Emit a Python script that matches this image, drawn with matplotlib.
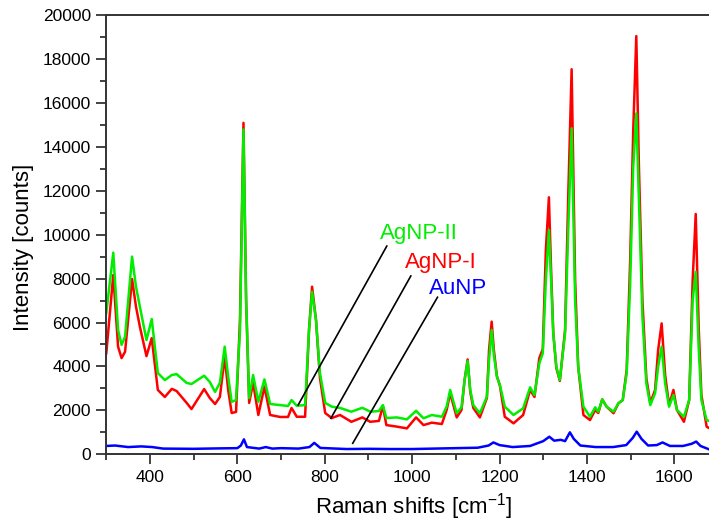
import matplotlib
matplotlib.use("Agg")
import matplotlib.pyplot as plt
from matplotlib.ticker import MultipleLocator
import numpy as np

plt.rcParams['font.family'] = ['Liberation Sans', 'DejaVu Sans']

# Raman shift positions [cm-1]
shift = [300, 316, 327, 335, 343, 359, 368, 377, 392, 404,
         418, 434, 450, 461, 484, 495, 524, 537, 549, 560,
         571, 579, 587, 597, 606, 614, 620, 627, 636, 648,
         662, 675, 698, 716, 724, 736, 755, 764, 771, 780,
         789, 801, 816, 835, 861, 886, 904, 924, 933, 941,
         965, 988, 1009, 1026, 1045, 1068, 1079, 1087, 1102, 1113,
         1120, 1127, 1133, 1140, 1155, 1171, 1176, 1182, 1187, 1194,
         1201, 1212, 1232, 1254, 1270, 1280, 1291, 1299, 1306, 1313,
         1318, 1323, 1330, 1338, 1350, 1357, 1365, 1373, 1380, 1392,
         1407, 1419, 1426, 1435, 1445, 1461, 1472, 1482, 1491, 1499,
         1506, 1513, 1519, 1527, 1536, 1545, 1556, 1563, 1571, 1579,
         1588, 1598, 1606, 1622, 1634, 1642, 1649, 1656, 1662, 1674,
         1679]

agnp_2 = [6420, 9180, 5660, 4980, 5350, 9000, 7630, 6710, 5200, 6160,
          3700, 3380, 3610, 3650, 3250, 3200, 3580, 3290, 2840, 3250,
          4900, 3530, 2390, 2470, 5660, 14790, 7020, 2560, 3610, 2390,
          3410, 2290, 2240, 2200, 2470, 2210, 2240, 5660, 7400, 6110,
          3700, 2340, 2170, 2110, 1940, 2120, 1940, 1970, 2240, 1650,
          1680, 1590, 1980, 1640, 1790, 1710, 2170, 2930, 1870, 2140,
          3380, 4250, 2930, 2240, 1870, 2620, 4290, 5660, 4520, 3530,
          3150, 2170, 1790, 2090, 3050, 2700, 4140, 4600, 7930, 10210,
          7930, 5520, 3990, 3380, 5510, 10070, 14840, 7020, 3990, 2170,
          1710, 2140, 1940, 2500, 2170, 1940, 2320, 2470, 3690, 7800,
          13090, 15520, 11580, 6260, 3230, 2240, 2780, 3990, 4900, 3230,
          2170, 2700, 2020, 1710, 2470, 7020, 8310, 4750, 2470, 1560,
          1520]

agnp_1 = [4600, 8160, 4900, 4380, 4670, 7980, 6720, 5800, 4470, 5290,
          2930, 2610, 2980, 2880, 2340, 2060, 2970, 2560, 2290, 2610,
          4440, 2930, 1880, 1930, 6110, 15090, 7020, 2340, 3250, 1790,
          3080, 1790, 1700, 1700, 2110, 1710, 1710, 5660, 7630, 6110,
          3480, 1880, 1650, 1790, 1480, 1680, 1480, 1520, 2200, 1330,
          1260, 1180, 1680, 1330, 1440, 1380, 2020, 2780, 1680, 2020,
          3380, 4320, 2840, 2110, 1680, 2560, 4750, 6040, 4750, 3560,
          3110, 1710, 1410, 1790, 2930, 2610, 4380, 4790, 9300, 11700,
          8390, 5520, 3930, 3340, 5660, 11580, 17530, 7930, 3990, 1790,
          1560, 2020, 1880, 2500, 2170, 1870, 2320, 2470, 3840, 8850,
          14760, 19040, 13090, 7020, 3470, 2340, 2930, 4750, 5960, 3610,
          2240, 2930, 2020, 1480, 2470, 7930, 10940, 5660, 2700, 1260,
          1200]

# AuNP spectrum sampled on its own positions
shift_au = [300, 320, 350, 380, 405, 430, 500, 560, 600, 608,
            615, 622, 650, 665, 680, 700, 740, 765, 776, 790,
            850, 900, 950, 1000, 1050, 1100, 1150, 1175, 1186, 1200,
            1230, 1270, 1300, 1314, 1325, 1340, 1350, 1361, 1370, 1385,
            1420, 1460, 1490, 1505, 1514, 1525, 1540, 1560, 1573, 1590,
            1620, 1640, 1650, 1660, 1679]
aunp = [380, 400, 330, 360, 330, 260, 250, 270, 280, 400,
        680, 330, 260, 330, 260, 280, 260, 330, 520, 290,
        240, 250, 240, 240, 260, 280, 300, 400, 540, 420,
        330, 380, 600, 800, 620, 660, 600, 1000, 700, 400,
        330, 330, 420, 750, 1030, 700, 400, 420, 540, 380,
        380, 480, 580, 380, 230]

labels = ['AgNP-II', 'AgNP-I', 'AuNP']
colors = ['#00ee00', '#ff0000', '#0000ff']
# text anchor and pointer line (start at text, end at curve)
label_pos = [(1016, 10030), (1065, 8750), (1105, 7540)]
pointer_from = [(942, 9480), (997, 8120), (1058, 7150)]
pointer_to = [(739, 2240), (814, 1640), (864, 500)]

fig = plt.figure(figsize=(7.09, 5.24), dpi=100)
ax = fig.add_axes([0.1499, 0.133, 0.8628, 0.8384])

ax.plot(shift_au, aunp, color=colors[2], lw=1.8)
ax.plot(shift, agnp_1, color=colors[1], lw=1.8)
ax.plot(shift, agnp_2, color=colors[0], lw=1.8)

for lab, c, tp, p0, p1 in zip(labels, colors, label_pos, pointer_from, pointer_to):
    ax.plot([p0[0], p1[0]], [p0[1], p1[1]], color='black', lw=1.2)
    ax.text(tp[0], tp[1], lab, color=c, fontsize=16, ha='center', va='center')

ax.set_xlim(300, 1700)
ax.set_ylim(0, 20000)
ax.xaxis.set_major_locator(MultipleLocator(200))
ax.xaxis.set_minor_locator(MultipleLocator(100))
ax.yaxis.set_major_locator(MultipleLocator(2000))
ax.yaxis.set_minor_locator(MultipleLocator(1000))
ax.tick_params(which='major', direction='out', length=7, width=1.2,
               labelsize=12.5, pad=4, color='#222222')
ax.tick_params(which='minor', direction='out', length=4, width=1.2, color='#222222')
for s in ax.spines.values():
    s.set_linewidth(1.4)
    s.set_color('#333333')

ax.set_xlabel('Raman shifts [cm$^{\\mathregular{-1}}$]', fontsize=16)
ax.set_ylabel('Intensity [counts]', fontsize=16)
ax.xaxis.set_label_coords(0.503, -0.084)
ax.yaxis.set_label_coords(-0.118, 0.472)

fig.savefig('out.png', dpi=100)
